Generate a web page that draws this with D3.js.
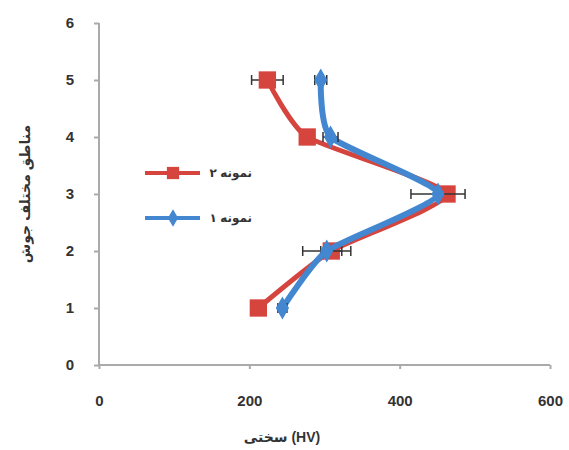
<!DOCTYPE html>
<html>
<head>
<meta charset="utf-8">
<script src="https://cdn.jsdelivr.net/npm/d3@7"></script>
<style>
  body { margin: 0; background: #fff; }
  text { font-family: "Liberation Sans", "DejaVu Sans", sans-serif; }
</style>
</head>
<body>
<svg width="569" height="450"></svg>
<script>
// zones (y) and hardness values (x)
var zones   = [1, 2, 3, 4, 5];
var sample2 = [212, 309, 463, 277, 224];   // نمونه ۲ (red)
var err2    = [6, 14, 8, 8, 21];
var sample1 = [244, 303, 451, 308, 295];   // نمونه ۱ (blue)
var err1    = [6, 32, 36, 10, 8];
var xTicks  = [0, 200, 400, 600];
var yTicks  = [0, 1, 2, 3, 4, 5, 6];
var legendLabels = ["نمونه ۲", "نمونه ۱"];

var red  = "#d6443e",
    blue = "#4287cf";

var svg = d3.select("svg");

var x = d3.scaleLinear().domain([0, 600]).range([99, 550]);
var y = d3.scaleLinear().domain([0, 6]).range([365, 23]);

// axes
var xAxis = d3.axisBottom(x).tickValues(xTicks).tickFormat(d3.format("d")).tickSize(4).tickPadding(26);
var yAxis = d3.axisLeft(y).tickValues(yTicks).tickFormat(d3.format("d")).tickSize(5).tickPadding(20);

var gx = svg.append("g").attr("transform", "translate(0," + y(0) + ")").call(xAxis);
var gy = svg.append("g").attr("transform", "translate(" + x(0) + ",0)").call(yAxis);

[gx, gy].forEach(function (g) {
  g.selectAll("path, line").attr("stroke", "#aaa").attr("stroke-width", 2);
  g.selectAll("text")
    .attr("fill", "#333")
    .attr("font-size", 15)
    .attr("font-weight", "bold");
});
gx.select(".domain").attr("d", "M" + x(0) + ",0H" + x(600));
gy.select(".domain").attr("d", "M0," + y(6) + "V" + y(0));

// axis titles
svg.append("text")
  .attr("x", 282).attr("y", 442)
  .attr("text-anchor", "middle")
  .attr("font-size", 14).attr("font-weight", "bold").attr("fill", "#333")
  .text("سختی (HV)");

svg.append("text")
  .attr("transform", "translate(30,194) rotate(-90)")
  .attr("text-anchor", "middle")
  .attr("font-size", 14).attr("font-weight", "bold").attr("fill", "#333")
  .text("مناطق مختلف جوش");

var line = d3.line()
  .x(function (d) { return x(d[0]); })
  .y(function (d) { return y(d[1]); })
  .curve(d3.curveCardinal.tension(0.45));

function drawSeries(values, errs, color, shape, size, width) {
  var pts = values.map(function (v, i) { return [v, zones[i], errs[i]]; });
  var g = svg.append("g");
  g.append("path")
    .datum(pts)
    .attr("fill", "none")
    .attr("stroke", color)
    .attr("stroke-width", width)
    .attr("d", line);

  // error bars
  var eb = g.selectAll(".eb").data(pts).enter().append("g");
  eb.append("line")
    .attr("x1", function (d) { return x(d[0] - d[2]); })
    .attr("x2", function (d) { return x(d[0] + d[2]); })
    .attr("y1", function (d) { return y(d[1]); })
    .attr("y2", function (d) { return y(d[1]); })
    .attr("stroke", "#333").attr("stroke-width", 1.5);
  [-1, 1].forEach(function (s) {
    eb.append("line")
      .attr("x1", function (d) { return x(d[0] + s * d[2]); })
      .attr("x2", function (d) { return x(d[0] + s * d[2]); })
      .attr("y1", function (d) { return y(d[1]) - 5; })
      .attr("y2", function (d) { return y(d[1]) + 5; })
      .attr("stroke", "#333").attr("stroke-width", 1.5);
  });

  g.selectAll(".m").data(pts).enter().append("path")
    .attr("transform", function (d) { return "translate(" + x(d[0]) + "," + y(d[1]) + ")"; })
    .attr("d", d3.symbol().type(shape).size(size))
    .attr("fill", color);
}

drawSeries(sample2, err2, red, d3.symbolSquare, 300, 5);
drawSeries(sample1, err1, blue, d3.symbolDiamond, 150, 6);

// legend
var legend = svg.append("g");
var items = [
  { label: legendLabels[0], color: red, shape: d3.symbolSquare, size: 150, y: 173 },
  { label: legendLabels[1], color: blue, shape: d3.symbolDiamond, size: 90, y: 218 }
];
var li = legend.selectAll("g").data(items).enter().append("g")
  .attr("transform", function (d) { return "translate(0," + d.y + ")"; });
li.append("line")
  .attr("x1", 145).attr("x2", 200)
  .attr("stroke", function (d) { return d.color; })
  .attr("stroke-width", 4);
li.append("path")
  .attr("transform", "translate(173,0)")
  .attr("d", function (d) { return d3.symbol().type(d.shape).size(d.size)(); })
  .attr("fill", function (d) { return d.color; });
li.append("text")
  .attr("x", 252).attr("y", 4)
  .attr("text-anchor", "end")
  .attr("font-size", 12).attr("font-weight", "bold").attr("fill", "#333")
  .text(function (d) { return d.label; });
</script>
</body>
</html>
